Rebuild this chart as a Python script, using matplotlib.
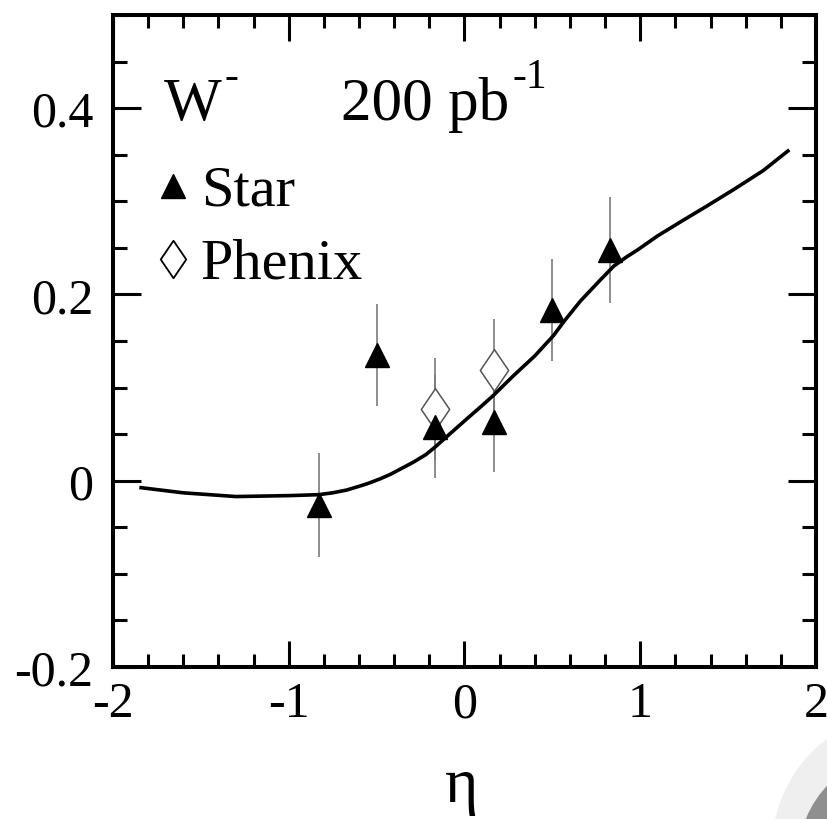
import matplotlib
matplotlib.use("Agg")
import matplotlib.pyplot as plt
from matplotlib.path import Path
from matplotlib.patches import Circle
from matplotlib.ticker import MultipleLocator, FixedLocator

plt.rcParams['font.family'] = ['Liberation Serif', 'DejaVu Serif']

# Theory curve
eta_curve = [-1.84, -1.6, -1.3, -1.0, -0.83, -0.75, -0.67, -0.6, -0.55, -0.48, -0.42,
             -0.37, -0.29, -0.22, -0.165, -0.1, 0.015, 0.09, 0.165, 0.28, 0.4,
             0.507, 0.566, 0.66, 0.775, 0.85, 0.92, 0.984, 1.1, 1.23, 1.38, 1.535, 1.7, 1.84]
asym_curve = [-0.0075, -0.013, -0.017, -0.016, -0.015, -0.013, -0.010, -0.006, -0.003, 0.002, 0.007,
              0.012, 0.020, 0.028, 0.0365, 0.0475, 0.0667, 0.079, 0.0917, 0.113, 0.134,
              0.156, 0.171, 0.193, 0.216, 0.2305, 0.240, 0.2477, 0.263, 0.278, 0.295, 0.313, 0.333, 0.354]

# Star points
star_eta = [-0.83, -0.5, -0.17, 0.17, 0.5, 0.83]
star_val = [-0.026, 0.135, 0.058, 0.063, 0.183, 0.248]
star_err = [0.056, 0.055, 0.055, 0.054, 0.055, 0.057]

# Phenix points
phenix_eta = [-0.17, 0.17]
phenix_val = [0.077, 0.119]
phenix_err = [0.055, 0.055]

x_ticks = [-2, -1, 0, 1, 2]
x_ticklabels = ['-2', '-1', '0', '1', '2']
y_ticks = [-0.2, 0.0, 0.2, 0.4]
y_ticklabels = ['-0.2', '0', '0.2', '0.4']

W, H, DPI = 828, 820, 100
fig = plt.figure(figsize=(W / DPI, H / DPI), dpi=DPI)
ax = fig.add_axes([113 / W, (H - 668) / H, (816 - 113) / W, (668 - 16) / H])

diamond = Path([(0, 1), (0.68, 0), (0, -1), (-0.68, 0), (0, 1)],
               [Path.MOVETO, Path.LINETO, Path.LINETO, Path.LINETO, Path.CLOSEPOLY])

ax.errorbar(star_eta, star_val, yerr=star_err, fmt='none', ecolor='#7a7a7a',
            elinewidth=1.2, capsize=0, zorder=2)
ax.errorbar(phenix_eta, phenix_val, yerr=phenix_err, fmt='none', ecolor='#7a7a7a',
            elinewidth=1.2, capsize=0, zorder=2)
ax.plot(phenix_eta, phenix_val, linestyle='none', marker=diamond, markersize=30,
        markerfacecolor='white', markeredgecolor='#555555', markeredgewidth=1.1, zorder=3)
ax.plot(star_eta, star_val, linestyle='none', marker='^', markersize=17,
        color='black', zorder=4)
ax.plot(eta_curve, asym_curve, color='black', linewidth=2.6, zorder=5,
        solid_joinstyle='round')

ax.set_xlim(-2, 2)
ax.set_ylim(-0.2, 0.5)
ax.xaxis.set_major_locator(FixedLocator(x_ticks))
ax.xaxis.set_minor_locator(MultipleLocator(0.2))
ax.yaxis.set_major_locator(FixedLocator(y_ticks))
ax.yaxis.set_minor_locator(MultipleLocator(0.05))
ax.set_xticklabels(x_ticklabels)
ax.set_yticklabels(y_ticklabels)

ax.tick_params(which='both', direction='in', top=True, right=True, width=2.2)
ax.tick_params(axis='x', which='major', length=19, labelsize=36, pad=10)
ax.tick_params(axis='x', which='minor', length=9.5)
ax.tick_params(axis='y', which='major', length=20, labelsize=36, pad=14)
ax.tick_params(axis='y', which='minor', length=10)
for s in ax.spines.values():
    s.set_linewidth(2.9)

# Legend / annotations (axes fraction)
tr = ax.transAxes
ax.text(0.072, 0.8405, 'W', fontsize=44, ha='left', va='baseline', transform=tr)
ax.text(0.158, 0.8896, '-', fontsize=30, ha='left', va='baseline', transform=tr)
ax.text(0.325, 0.8405, '200 pb', fontsize=44, ha='left', va='baseline', transform=tr)
ax.text(0.568, 0.8896, '-1', fontsize=30, ha='left', va='baseline', transform=tr)

ax.plot([0.0853], [0.7377], marker='^', markersize=17, color='black',
        transform=tr, clip_on=False)
ax.text(0.126, 0.710, 'Star', fontsize=42, ha='left', va='baseline', transform=tr)
ax.plot([0.0853], [0.6258], marker=diamond, markersize=27, markerfacecolor='white',
        markeredgecolor='black', markeredgewidth=1.3, transform=tr, clip_on=False)
ax.text(0.124, 0.598, 'Phenix', fontsize=42, ha='left', va='baseline', transform=tr)

fig.text(462 / W, 1 - 802 / H, 'η', fontsize=46, ha='center', va='baseline')

# corner artifact
fig.add_artist(Circle((9.10, -0.30), 1.38, transform=fig.dpi_scale_trans,
                      facecolor='#efefef', edgecolor='none', zorder=0))
fig.add_artist(Circle((9.05, -0.40), 1.07, transform=fig.dpi_scale_trans,
                      facecolor='#8f8f8f', edgecolor='none', zorder=0))

fig.savefig('out.png', dpi=DPI)
